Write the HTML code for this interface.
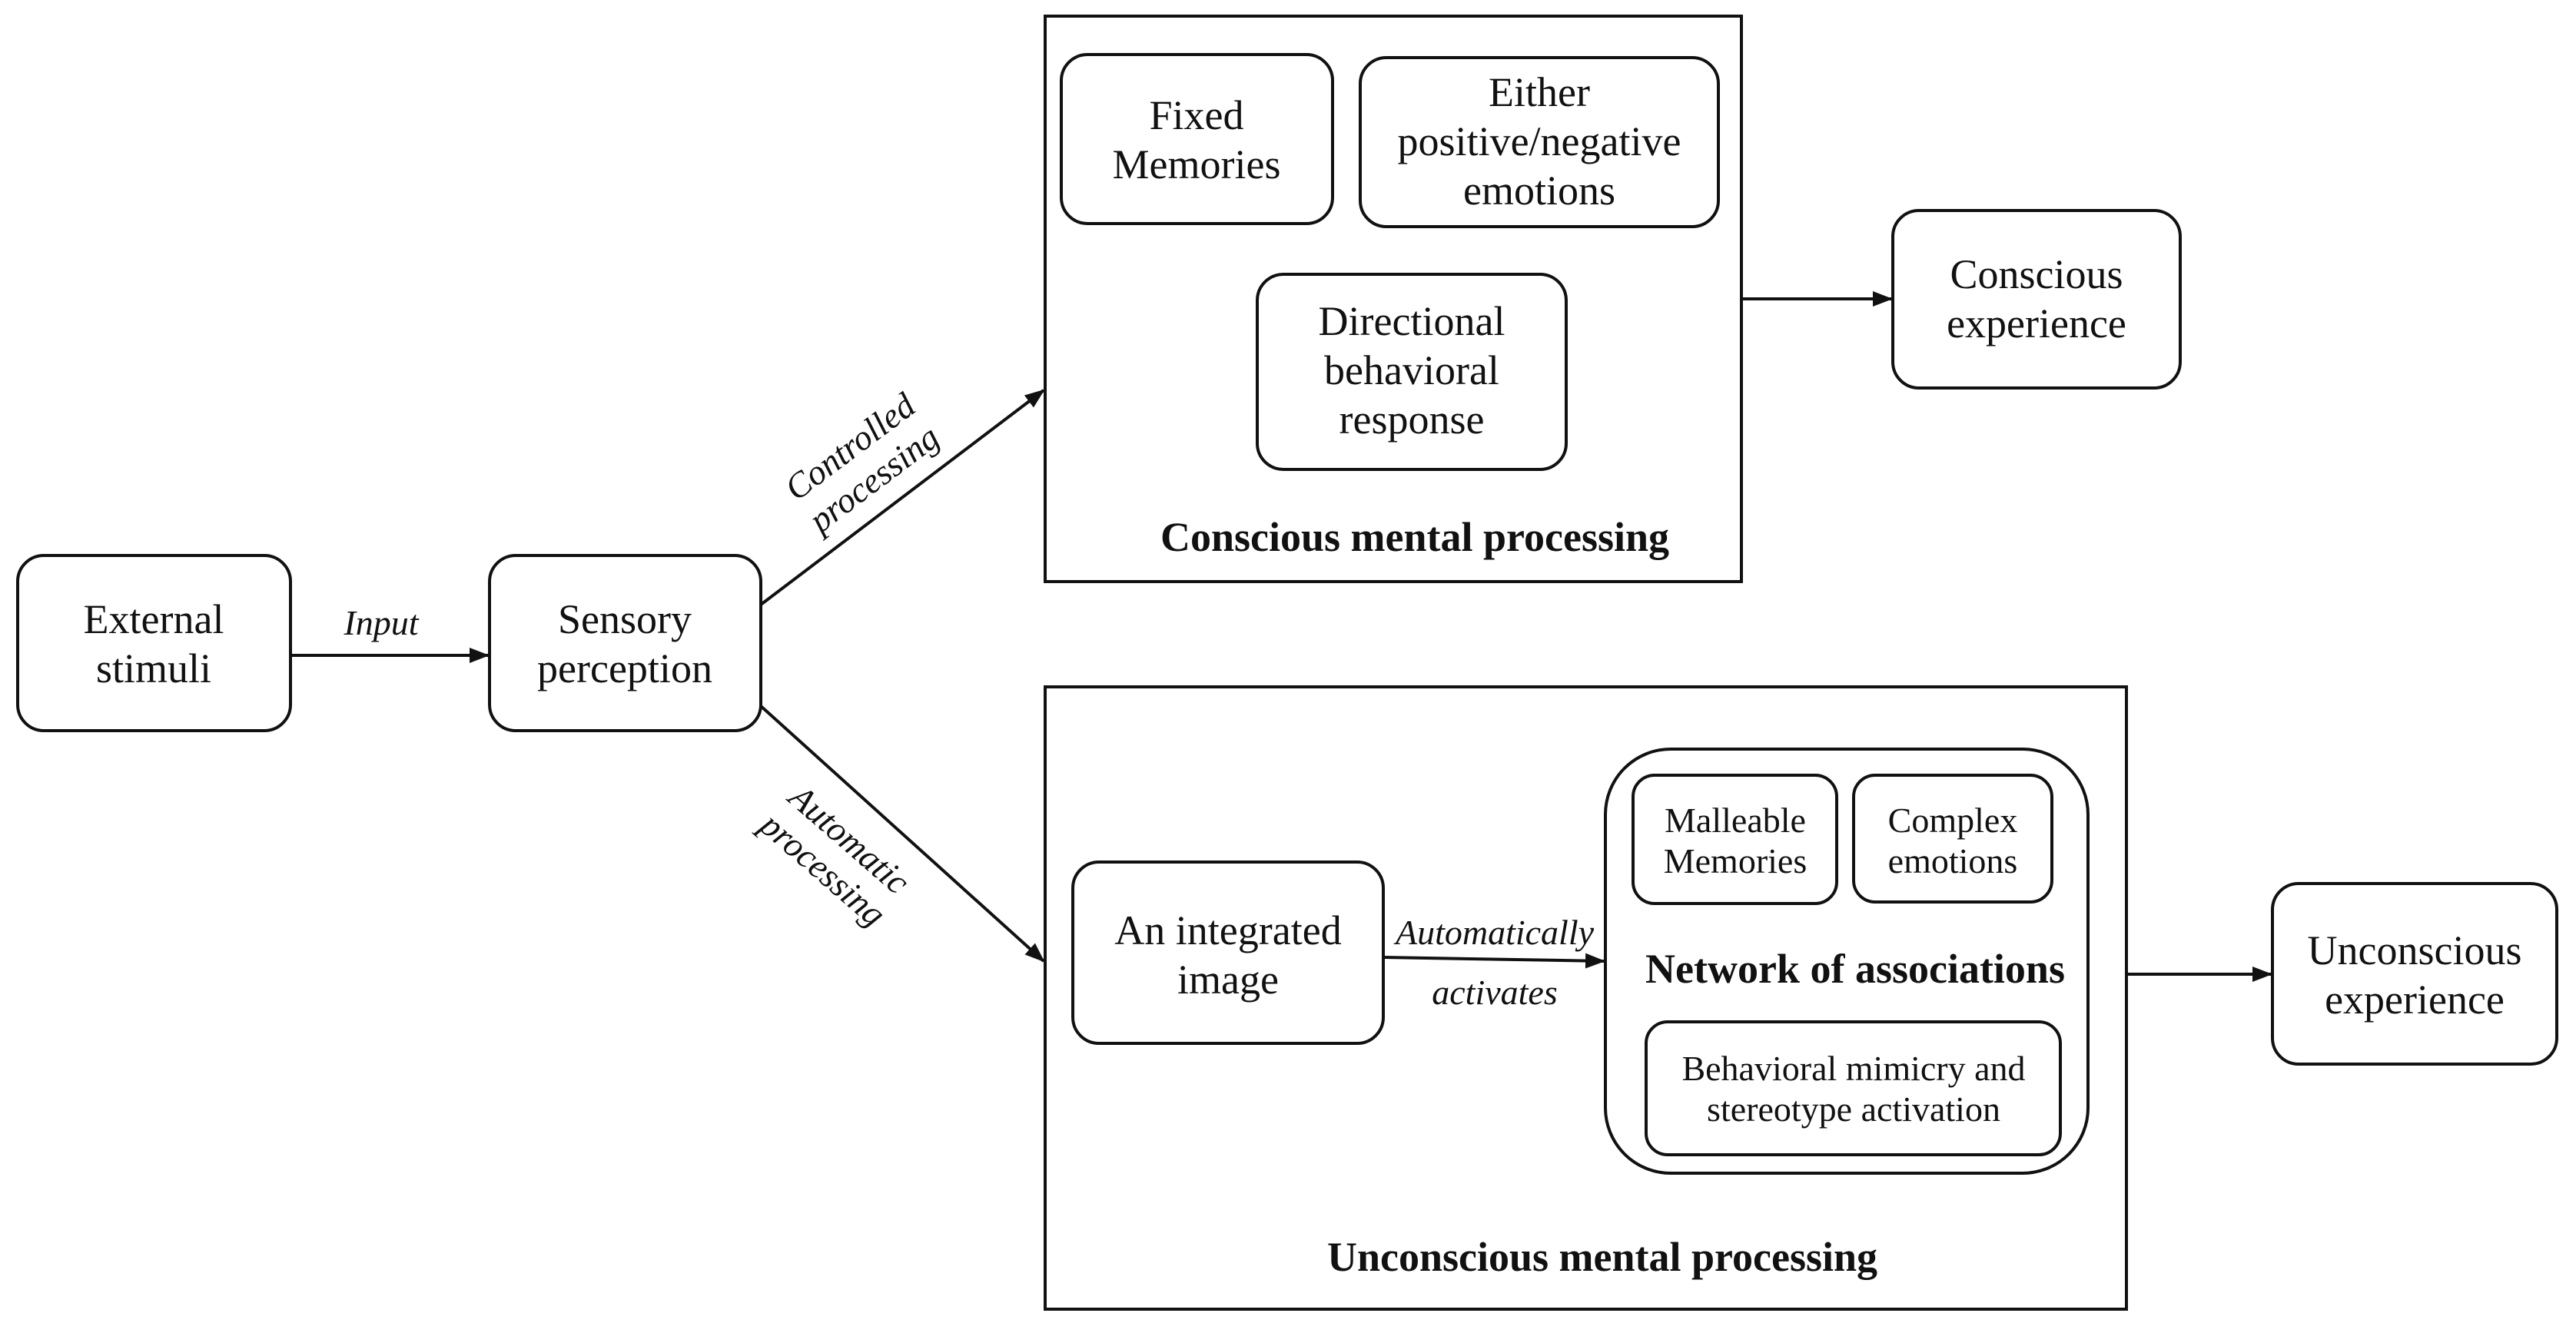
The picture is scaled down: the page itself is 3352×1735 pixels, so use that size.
<!DOCTYPE html>
<html><head><meta charset="utf-8"><style>
html,body{margin:0;padding:0;background:#fff;}
svg{display:block;}
text{font-family:"Liberation Serif",serif;fill:#111;}
</style></head><body>
<svg width="3352" height="1735" viewBox="0 0 3352 1735" xmlns="http://www.w3.org/2000/svg">
<defs>
<marker id="b" markerWidth="26" markerHeight="20" refX="24" refY="10" orient="auto" markerUnits="userSpaceOnUse"><path d="M0,0 L26,10 L0,20z" fill="#111"/></marker></defs>
<g fill="none" stroke="#111" stroke-width="4">
<rect x="23" y="723" width="355" height="228" rx="34"/>
<rect x="637" y="723" width="353" height="228" rx="34"/>
<rect x="1360" y="21" width="906" height="736"/>
<rect x="1381" y="71" width="353" height="220" rx="34"/>
<rect x="1770" y="75" width="466" height="220" rx="34"/>
<rect x="1636" y="357" width="402" height="254" rx="34"/>
<rect x="2463" y="274" width="374" height="231" rx="34"/>
<rect x="1360" y="894" width="1407" height="810"/>
<rect x="1396" y="1122" width="404" height="236" rx="34"/>
<rect x="2089" y="975" width="628" height="552" rx="85"/>
<rect x="2125" y="1009" width="265" height="167" rx="28"/>
<rect x="2412" y="1009" width="258" height="165" rx="28"/>
<rect x="2142" y="1330" width="539" height="173" rx="28"/>
<rect x="2957" y="1150" width="370" height="235" rx="34"/>
<line x1="378" y1="853" x2="635" y2="853" marker-end="url(#b)"/>
<line x1="990" y1="787" x2="1358" y2="508" marker-end="url(#b)"/>
<line x1="990" y1="919" x2="1358" y2="1251" marker-end="url(#b)"/>
<line x1="2266" y1="389" x2="2461" y2="389" marker-end="url(#b)"/>
<line x1="1800" y1="1246" x2="2087" y2="1251" marker-end="url(#b)"/>
<line x1="2767" y1="1268" x2="2955" y2="1268" marker-end="url(#b)"/>
</g>
<g font-size="54" text-anchor="middle">
<text x="200" y="824">External</text><text x="200" y="888">stimuli</text>
<text x="813" y="824">Sensory</text><text x="813" y="888">perception</text>
<text x="1557" y="168">Fixed</text><text x="1557" y="232">Memories</text>
<text x="2003" y="138">Either</text><text x="2003" y="202">positive/negative</text><text x="2003" y="266">emotions</text>
<text x="1837" y="436">Directional</text><text x="1837" y="500">behavioral</text><text x="1837" y="564">response</text>
<text x="2650" y="375">Conscious</text><text x="2650" y="439">experience</text>
<text x="1598" y="1229">An integrated</text><text x="1598" y="1293">image</text>
<text x="3142" y="1255">Unconscious</text><text x="3142" y="1319">experience</text>
</g>
<g font-size="46" text-anchor="middle">
<text x="2258" y="1083">Malleable</text><text x="2258" y="1136">Memories</text>
<text x="2541" y="1083">Complex</text><text x="2541" y="1136">emotions</text>
<text x="2412" y="1406">Behavioral mimicry and</text><text x="2412" y="1459">stereotype activation</text>
</g>
<g font-size="54" font-weight="bold" text-anchor="middle">
<text x="1841" y="717">Conscious mental processing</text>
<text x="2414" y="1279">Network of associations</text>
<text x="2085" y="1654">Unconscious mental processing</text>
</g>
<g font-size="46" font-style="italic" text-anchor="middle">
<text x="496" y="826">Input</text>
<text x="1945" y="1229">Automatically</text>
<text x="1945" y="1307">activates</text>
<g transform="translate(1120,600) rotate(-37)"><text x="0" y="-8">Controlled</text><text x="0" y="44">processing</text></g>
<g transform="translate(1090,1110) rotate(41)"><text x="0" y="-8">Automatic</text><text x="0" y="44">processing</text></g>
</g>
</svg>
</body></html>
